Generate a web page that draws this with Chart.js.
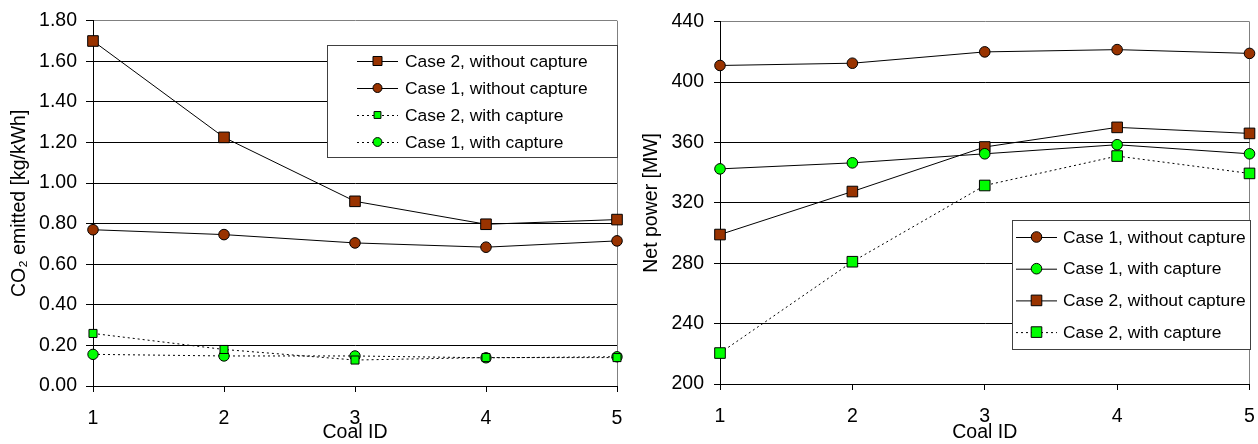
<!DOCTYPE html>
<html>
<head>
<meta charset="utf-8">
<script src="https://cdn.jsdelivr.net/npm/chart.js@4.4.0/dist/chart.umd.min.js"></script>
<style>
  html, body { margin: 0; padding: 0; background: #fff; }
  .wrap { position: absolute; top: 0; height: 444px; }
  #left { left: 0; width: 630px; }
  #right { left: 630px; width: 628px; }
</style>
</head>
<body>
<div class="wrap" id="left"><canvas id="co2"></canvas></div>
<div class="wrap" id="right"><canvas id="power"></canvas></div>
<script>
"use strict";

// ---------- Data ----------
const coalIds = ["1", "2", "3", "4", "5"];

// CO2 emitted [kg/kWh]
const co2Case2NoCapture = [1.70, 1.225, 0.91, 0.797, 0.82];
const co2Case1NoCapture = [0.77, 0.746, 0.705, 0.684, 0.715];
const co2Case2Capture = [0.259, 0.18, 0.128, 0.14, 0.14];
const co2Case1Capture = [0.156, 0.148, 0.148, 0.139, 0.144];

// Net power [MW]
const powerCase1NoCapture = [411, 412.5, 420, 421.5, 419];
const powerCase1Capture = [342.5, 346.5, 352.5, 358.5, 352.5];
const powerCase2NoCapture = [299, 327.5, 357, 370, 366];
const powerCase2Capture = [220.5, 281, 331.5, 351, 339.5];

const BROWN = "#993300";
const GREEN = "#00ff00";
const FONT = "'Liberation Sans', Arial, sans-serif";

Chart.defaults.font.family = FONT;
Chart.defaults.color = "#000";

// ---------- Helpers ----------
function series(label, data, shape, fill, dotted, radius) {
  return {
    label, data,
    borderColor: "#000", borderWidth: 1,
    borderDash: dotted ? [2, 3] : [],
    pointStyle: shape, pointRadius: radius, pointHoverRadius: radius,
    pointBackgroundColor: fill, pointBorderColor: "#000", pointBorderWidth: 1,
    tension: 0, fill: false, clip: false,
  };
}

function marker(ctx, shape, x, y, r, fill) {
  ctx.beginPath();
  if (shape === "rect") {
    const s = Math.SQRT1_2 * r;
    ctx.rect(x - s, y - s, 2 * s, 2 * s);
  } else {
    ctx.arc(x, y, r, 0, Math.PI * 2);
  }
  ctx.fillStyle = fill;
  ctx.fill();
  ctx.lineWidth = 1;
  ctx.strokeStyle = "#000";
  ctx.stroke();
}

// legend box drawn inside the plot, Excel style (line + marker sample)
const boxLegend = {
  id: "boxLegend",
  afterDatasetsDraw(chart, args, o) {
    const ctx = chart.ctx;
    ctx.save();
    ctx.fillStyle = "#fff";
    ctx.fillRect(o.x, o.y, o.w, o.h);
    ctx.strokeStyle = "#404040";
    ctx.lineWidth = 1;
    ctx.strokeRect(o.x + 0.5, o.y + 0.5, o.w, o.h);
    o.order.forEach((di, i) => {
      const ds = chart.data.datasets[di];
      const y = o.row0 + i * o.rowGap;
      ctx.beginPath();
      ctx.setLineDash(ds.borderDash);
      ctx.strokeStyle = "#000";
      ctx.moveTo(o.lineX0, y + 0.5);
      ctx.lineTo(o.lineX1, y + 0.5);
      ctx.stroke();
      ctx.setLineDash([]);
      marker(ctx, ds.pointStyle, (o.lineX0 + o.lineX1) / 2, y, ds.pointRadius * (o.markerScale || 1), ds.pointBackgroundColor);
      ctx.fillStyle = "#000";
      ctx.font = `${o.fontSize}px ${FONT}`;
      ctx.textBaseline = "middle";
      ctx.fillText(ds.label, o.textX, y + 1);
    });
    ctx.restore();
  },
};

function axes(cfg) {
  const isTop = (c) => Math.abs(c.tick.value - cfg.max) < 1e-6;
  return {
    x: {
      type: "category",
      offset: false,
      afterFit: (s) => { s.height = cfg.xHeight; s.paddingLeft = 0; s.paddingRight = 0; },
      grid: {
        color: (c) => (c.index === coalIds.length - 1 ? "#808080" : "rgba(0,0,0,0)"),
        tickColor: "#000", tickLength: 6, lineWidth: 1,
      },
      border: { color: "#000", width: 1 },
      ticks: { font: { size: 19.5 }, padding: 15, maxRotation: 0 },
      title: { display: true, text: "Coal ID", font: { size: 19.5 }, padding: 0 },
    },
    y: {
      min: cfg.min, max: cfg.max,
      afterFit: (s) => { s.width = cfg.yWidth; },
      grid: {
        color: (c) => (isTop(c) ? "#808080" : "#000"),
        tickColor: "#000", tickLength: cfg.tickLen, lineWidth: 1,
      },
      border: { color: "#000", width: 1 },
      ticks: { stepSize: cfg.step, padding: cfg.tickPad, font: { size: 19.5 }, callback: cfg.fmt },
      title: { display: true, text: cfg.title, font: { size: 19.5 }, padding: { top: cfg.titlePad, bottom: 0 } },
    },
  };
}

// ---------- CO2 chart ----------
new Chart(document.getElementById("co2"), {
  type: "line",
  data: {
    labels: coalIds,
    datasets: [
      series("Case 2, without capture", co2Case2NoCapture, "rect", BROWN, false, 7.5),
      series("Case 1, without capture", co2Case1NoCapture, "circle", BROWN, false, 5.3),
      series("Case 2, with capture", co2Case2Capture, "rect", GREEN, true, 5.7),
      series("Case 1, with capture", co2Case1Capture, "circle", GREEN, true, 5.2),
    ],
  },
  options: {
    responsive: true, maintainAspectRatio: false, animation: false, devicePixelRatio: 1,
    events: [],
    layout: { padding: { left: 0, right: 13, top: 20, bottom: 0 } },
    scales: axes({
      min: 0, max: 1.8, step: 0.2, xHeight: 58, yWidth: 93, tickLen: 7, tickPad: 9, titlePad: 8,
      title: "CO\u2082 emitted [kg/kWh]", fmt: (v) => Number(v).toFixed(2),
    }),
    plugins: {
      legend: { display: false },
      tooltip: { enabled: false },
      boxLegend: {
        x: 327, y: 45, w: 290, h: 112, order: [0, 1, 2, 3],
        row0: 61, rowGap: 27, lineX0: 357, lineX1: 398, textX: 405, fontSize: 17.4, markerScale: 0.85,
      },
    },
  },
  plugins: [boxLegend],
});

// ---------- Net power chart ----------
new Chart(document.getElementById("power"), {
  type: "line",
  data: {
    labels: coalIds,
    datasets: [
      series("Case 1, without capture", powerCase1NoCapture, "circle", BROWN, false, 5.3),
      series("Case 1, with capture", powerCase1Capture, "circle", GREEN, false, 5.3),
      series("Case 2, without capture", powerCase2NoCapture, "rect", BROWN, false, 7.5),
      series("Case 2, with capture", powerCase2Capture, "rect", GREEN, true, 7.5),
    ],
  },
  options: {
    responsive: true, maintainAspectRatio: false, animation: false, devicePixelRatio: 1,
    events: [],
    layout: { padding: { left: 0, right: 6, top: 20, bottom: 0 } },
    scales: axes({
      min: 200, max: 440, step: 40, xHeight: 60, yWidth: 90, tickLen: 6, tickPad: 10, titlePad: 10,
      title: "Net power [MW]", fmt: (v) => String(v),
    }),
    plugins: {
      legend: { display: false },
      tooltip: { enabled: false },
      boxLegend: {
        x: 382, y: 220, w: 238, h: 129, order: [0, 1, 2, 3],
        row0: 237, rowGap: 31.7, lineX0: 386, lineX1: 427, textX: 433, fontSize: 17.4, markerScale: 1,
      },
    },
  },
  plugins: [boxLegend],
});
</script>
</body>
</html>
